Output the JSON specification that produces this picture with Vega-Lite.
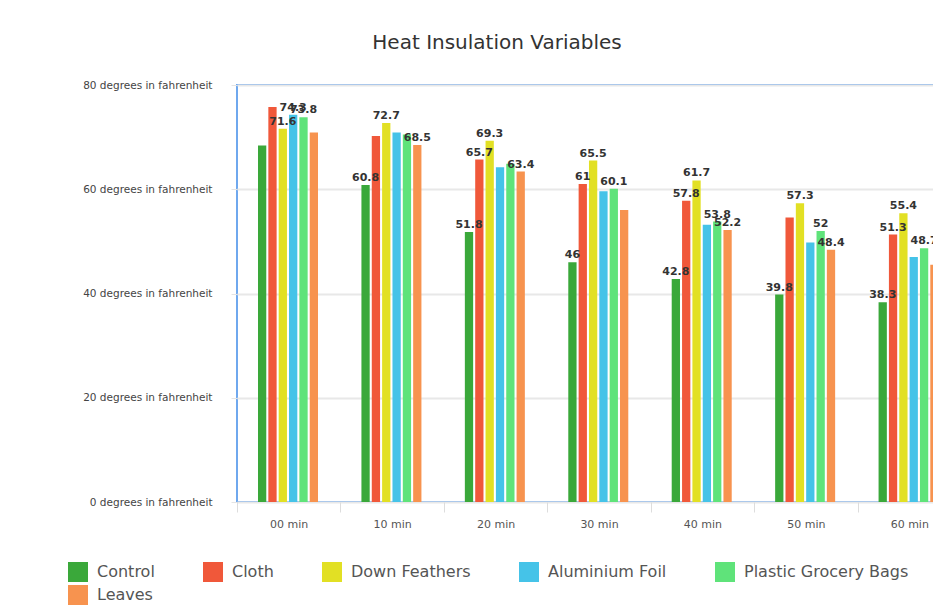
{
  "$schema": "https://vega.github.io/schema/vega-lite/v6.json",
  "autosize": {"type": "none"},
  "padding": {"left": 237, "top": 85, "right": 0, "bottom": 106},
  "width": 724,
  "height": 417,
  "background": "white",
  "title": {"text": "Heat Insulation Variables", "font": "DejaVu Sans", "fontSize": 20, "fontWeight": "normal", "color": "#333333", "dx": -102, "offset": 27},
  "config": {"view": {"stroke": "#6fa8ee", "strokeWidth": 2}},
  "data": {"values": [
    {"time": "00 min", "series": "Control", "value": 68.4, "label": ""},
    {"time": "00 min", "series": "Cloth", "value": 75.8, "label": ""},
    {"time": "00 min", "series": "Down Feathers", "value": 71.6, "label": "71.6"},
    {"time": "00 min", "series": "Aluminium Foil", "value": 74.3, "label": "74.3"},
    {"time": "00 min", "series": "Plastic Grocery Bags", "value": 73.8, "label": "73.8"},
    {"time": "00 min", "series": "Leaves", "value": 70.9, "label": ""},
    {"time": "10 min", "series": "Control", "value": 60.8, "label": "60.8"},
    {"time": "10 min", "series": "Cloth", "value": 70.2, "label": ""},
    {"time": "10 min", "series": "Down Feathers", "value": 72.7, "label": "72.7"},
    {"time": "10 min", "series": "Aluminium Foil", "value": 70.9, "label": ""},
    {"time": "10 min", "series": "Plastic Grocery Bags", "value": 70.5, "label": ""},
    {"time": "10 min", "series": "Leaves", "value": 68.5, "label": "68.5"},
    {"time": "20 min", "series": "Control", "value": 51.8, "label": "51.8"},
    {"time": "20 min", "series": "Cloth", "value": 65.7, "label": "65.7"},
    {"time": "20 min", "series": "Down Feathers", "value": 69.3, "label": "69.3"},
    {"time": "20 min", "series": "Aluminium Foil", "value": 64.2, "label": ""},
    {"time": "20 min", "series": "Plastic Grocery Bags", "value": 64.9, "label": ""},
    {"time": "20 min", "series": "Leaves", "value": 63.4, "label": "63.4"},
    {"time": "30 min", "series": "Control", "value": 46, "label": "46"},
    {"time": "30 min", "series": "Cloth", "value": 61, "label": "61"},
    {"time": "30 min", "series": "Down Feathers", "value": 65.5, "label": "65.5"},
    {"time": "30 min", "series": "Aluminium Foil", "value": 59.6, "label": ""},
    {"time": "30 min", "series": "Plastic Grocery Bags", "value": 60.1, "label": "60.1"},
    {"time": "30 min", "series": "Leaves", "value": 56.0, "label": ""},
    {"time": "40 min", "series": "Control", "value": 42.8, "label": "42.8"},
    {"time": "40 min", "series": "Cloth", "value": 57.8, "label": "57.8"},
    {"time": "40 min", "series": "Down Feathers", "value": 61.7, "label": "61.7"},
    {"time": "40 min", "series": "Aluminium Foil", "value": 53.2, "label": ""},
    {"time": "40 min", "series": "Plastic Grocery Bags", "value": 53.8, "label": "53.8"},
    {"time": "40 min", "series": "Leaves", "value": 52.2, "label": "52.2"},
    {"time": "50 min", "series": "Control", "value": 39.8, "label": "39.8"},
    {"time": "50 min", "series": "Cloth", "value": 54.6, "label": ""},
    {"time": "50 min", "series": "Down Feathers", "value": 57.3, "label": "57.3"},
    {"time": "50 min", "series": "Aluminium Foil", "value": 49.8, "label": ""},
    {"time": "50 min", "series": "Plastic Grocery Bags", "value": 52, "label": "52"},
    {"time": "50 min", "series": "Leaves", "value": 48.4, "label": "48.4"},
    {"time": "60 min", "series": "Control", "value": 38.3, "label": "38.3"},
    {"time": "60 min", "series": "Cloth", "value": 51.3, "label": "51.3"},
    {"time": "60 min", "series": "Down Feathers", "value": 55.4, "label": "55.4"},
    {"time": "60 min", "series": "Aluminium Foil", "value": 47.0, "label": ""},
    {"time": "60 min", "series": "Plastic Grocery Bags", "value": 48.7, "label": "48.7"},
    {"time": "60 min", "series": "Leaves", "value": 45.5, "label": ""}
  ]},
  "encoding": {
    "x": {"field": "time", "type": "nominal", "sort": null,
      "scale": {"paddingInner": 0, "paddingOuter": 0},
      "axis": {"title": null, "labelAngle": 0, "labelFont": "DejaVu Sans", "labelFontSize": 11, "labelColor": "#555555", "domain": false, "ticks": true, "tickBand": "extent", "tickSize": 10, "tickColor": "#dddddd", "labelPadding": 6}},
    "xOffset": {"field": "series", "type": "nominal", "sort": ["Control", "Cloth", "Down Feathers", "Aluminium Foil", "Plastic Grocery Bags", "Leaves"],
      "scale": {"range": [21, 81], "paddingInner": 0.2, "paddingOuter": 0}},
    "y": {"field": "value", "type": "quantitative",
      "scale": {"domain": [0, 80]},
      "axis": {"title": null, "values": [0, 20, 40, 60, 80], "labelExpr": "datum.value + ' degrees in fahrenheit'", "labelFont": "DejaVu Sans", "labelFontSize": 10.5, "labelColor": "#444444", "domain": false, "tickSize": 6, "tickColor": "#e4e4e4", "labelPadding": 19, "gridColor": "#e8e8e8", "gridWidth": 2}}
  },
  "layer": [
    {"mark": {"type": "bar"},
     "encoding": {
       "color": {"field": "series", "type": "nominal",
         "sort": ["Control", "Cloth", "Down Feathers", "Aluminium Foil", "Plastic Grocery Bags", "Leaves"],
         "scale": {"domain": ["Control", "Cloth", "Down Feathers", "Aluminium Foil", "Plastic Grocery Bags", "Leaves"],
                   "range": ["#3aa83a", "#f0583a", "#e2e024", "#45c3e8", "#5fe37a", "#f7934f"]},
         "legend": {"title": null, "orient": "none", "legendX": -169, "legendY": 477, "direction": "horizontal", "columns": 5, "columnPadding": 48, "rowPadding": 3, "symbolType": "square", "symbolSize": 400, "symbolStrokeWidth": 0, "labelOffset": 9, "labelFont": "DejaVu Sans", "labelFontSize": 16, "labelColor": "#555555", "labelLimit": 400, "padding": 0}}
     }},
    {"mark": {"type": "text", "dy": -7, "font": "DejaVu Sans", "fontSize": 11, "fontWeight": "bold", "color": "#333333"},
     "encoding": {"text": {"field": "label", "type": "nominal"}}}
  ]
}
